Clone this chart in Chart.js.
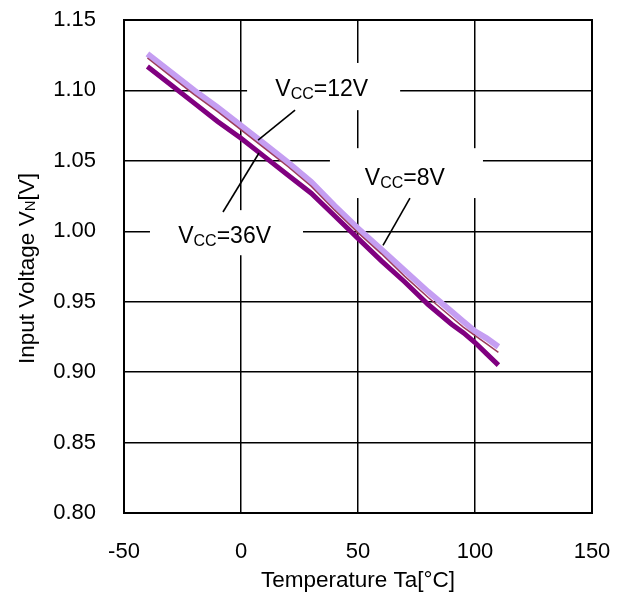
<!DOCTYPE html>
<html>
<head>
<meta charset="utf-8">
<script src="https://cdn.jsdelivr.net/npm/chart.js@4.4.1/dist/chart.umd.min.js"></script>
<style>
  html, body { margin: 0; padding: 0; background: #fff; }
  #wrap { width: 623px; height: 610px; }
</style>
</head>
<body>
<div id="wrap"><canvas id="c" width="623" height="610"></canvas></div>
<script>
// ---- data ----
const temps = [-40, -30, -20, -10, 0, 10, 20, 30, 40, 50, 60, 70, 80, 90, 95, 100, 105, 110];
const vcc8V  = [1.126, 1.113, 1.100, 1.088, 1.075, 1.062, 1.049, 1.035, 1.018, 1.002, 0.987, 0.972, 0.957, 0.943, 0.936, 0.929, 0.924, 0.918];
const vcc12V = [1.123, 1.110, 1.097, 1.085, 1.072, 1.059, 1.046, 1.032, 1.015, 0.999, 0.984, 0.968, 0.953, 0.939, 0.932, 0.926, 0.920, 0.914];
const vcc36V = [1.117, 1.104, 1.091, 1.078, 1.066, 1.053, 1.040, 1.027, 1.011, 0.995, 0.979, 0.964, 0.948, 0.934, 0.928, 0.921, 0.913, 0.905];
const xTicks = [-50, 0, 50, 100, 150];
const yTicks = [0.80, 0.85, 0.90, 0.95, 1.00, 1.05, 1.10, 1.15];
const xTitle = 'Temperature Ta[°C]';
const yTitle = ['Input Voltage V', 'N', '[V]'];
// annotation labels: [main, subscript, rest]
const labels = [
  { parts: ['V', 'CC', '=12V'], at: [34.5, 1.1017], box: [2.6, 68, 1.1195, 1.086], leader: [[23.1, 1.086], [7.3, 1.0648]] },
  { parts: ['V', 'CC', '=36V'], at: [-7, 0.9973], box: [-38.9, 26.5, 1.015, 0.983], leader: [[-7.7, 1.0137], [7.7, 1.0556]] },
  { parts: ['V', 'CC', '=8V'],  at: [70, 1.0385], box: [38, 103.4, 1.059, 1.0236], leader: [[72.2, 1.0236], [60.7, 0.990]] }
];

const FONT = '"Liberation Sans", Arial, Helvetica, sans-serif';
const toPts = (ys) => temps.map((t, i) => ({ x: t, y: ys[i] }));

function drawParts(ctx, parts, cx, cy, size, subSize, subDrop) {
  const big = size + 'px ' + FONT;
  const small = subSize + 'px ' + FONT;
  ctx.font = big; const w0 = ctx.measureText(parts[0]).width;
  ctx.font = small; const w1 = ctx.measureText(parts[1]).width;
  ctx.font = big; const w2 = ctx.measureText(parts[2]).width;
  let x = cx - (w0 + w1 + w2) / 2;
  ctx.textBaseline = 'alphabetic';
  ctx.textAlign = 'left';
  const base = cy + size * 0.36;
  ctx.font = big; ctx.fillText(parts[0], x, base); x += w0;
  ctx.font = small; ctx.fillText(parts[1], x, base + subDrop); x += w1;
  ctx.font = big; ctx.fillText(parts[2], x, base);
}

const zeroPad = (s) => { s.paddingLeft = 0; s.paddingRight = 0; s.paddingTop = 0; s.paddingBottom = 0; };

const annot = {
  id: 'annot',
  beforeDatasetsDraw(chart) {
    const { ctx, scales: { x, y } } = chart;
    ctx.save();
    ctx.fillStyle = '#ffffff';
    labels.forEach(l => {
      const x0 = x.getPixelForValue(l.box[0]), x1 = x.getPixelForValue(l.box[1]);
      const y0 = y.getPixelForValue(l.box[2]), y1 = y.getPixelForValue(l.box[3]);
      ctx.fillRect(x0, y0, x1 - x0, y1 - y0);
    });
    ctx.restore();
  },
  afterDatasetsDraw(chart) {
    const { ctx, scales: { x, y }, chartArea } = chart;
    ctx.save();
    ctx.strokeStyle = '#000'; ctx.lineWidth = 2;
    ctx.strokeRect(chartArea.left, chartArea.top, chartArea.right - chartArea.left, chartArea.bottom - chartArea.top);
    ctx.lineWidth = 1.6;
    ctx.fillStyle = '#000';
    labels.forEach(l => {
      ctx.beginPath();
      ctx.moveTo(x.getPixelForValue(l.leader[0][0]), y.getPixelForValue(l.leader[0][1]));
      ctx.lineTo(x.getPixelForValue(l.leader[1][0]), y.getPixelForValue(l.leader[1][1]));
      ctx.stroke();
      drawParts(ctx, l.parts, x.getPixelForValue(l.at[0]), y.getPixelForValue(l.at[1]), 23, 16, 2.5);
    });
    const cy = (chartArea.top + chartArea.bottom) / 2;
    ctx.translate(26, cy + 2);
    ctx.rotate(-Math.PI / 2);
    drawParts(ctx, yTitle, 0, 0, 22.5, 15, 1);
    ctx.restore();
  }
};

new Chart(document.getElementById('c'), {
  type: 'line',
  data: {
    datasets: [
      { label: 'VCC=12V', data: toPts(vcc12V), borderColor: '#9c3b5c', borderWidth: 1.5, pointRadius: 0, tension: 0, order: 0 },
      { label: 'VCC=8V', data: toPts(vcc8V), borderColor: '#c59ef2', borderWidth: 6, pointRadius: 0, tension: 0, order: 1 },
      { label: 'VCC=36V', data: toPts(vcc36V), borderColor: '#800080', borderWidth: 5, pointRadius: 0, tension: 0, order: 2 }
    ]
  },
  options: {
    responsive: false,
    animation: false,
    devicePixelRatio: 1,
    layout: { padding: { top: 20, right: 31, left: 0, bottom: 0 } },
    plugins: { legend: { display: false }, tooltip: { enabled: false } },
    scales: {
      x: {
        type: 'linear', min: -50, max: 150,
        afterBuildTicks: (s) => { s.ticks = xTicks.map(v => ({ value: v })); },
        afterFit: (s) => { s.height = 97; zeroPad(s); },
        grid: { color: '#000', lineWidth: 1.5, drawTicks: false },
        border: { display: false },
        ticks: { color: '#000', padding: 26, font: { family: FONT, size: 22 }, maxRotation: 0, autoSkip: false, callback: (v) => String(v) },
        title: { display: true, text: xTitle, color: '#000', font: { family: FONT, size: 22.5 }, padding: { top: 0, bottom: 16 } }
      },
      y: {
        type: 'linear', min: 0.80, max: 1.15,
        afterBuildTicks: (s) => { s.ticks = yTicks.map(v => ({ value: v })); },
        afterFit: (s) => { s.width = 124; zeroPad(s); },
        grid: { color: '#000', lineWidth: 1.5, drawTicks: false },
        border: { display: false },
        ticks: { color: '#000', padding: 28, font: { family: FONT, size: 22 }, autoSkip: false, callback: (v) => Number(v).toFixed(2) },
        title: { display: false }
      }
    }
  },
  plugins: [annot]
});
</script>
</body>
</html>
